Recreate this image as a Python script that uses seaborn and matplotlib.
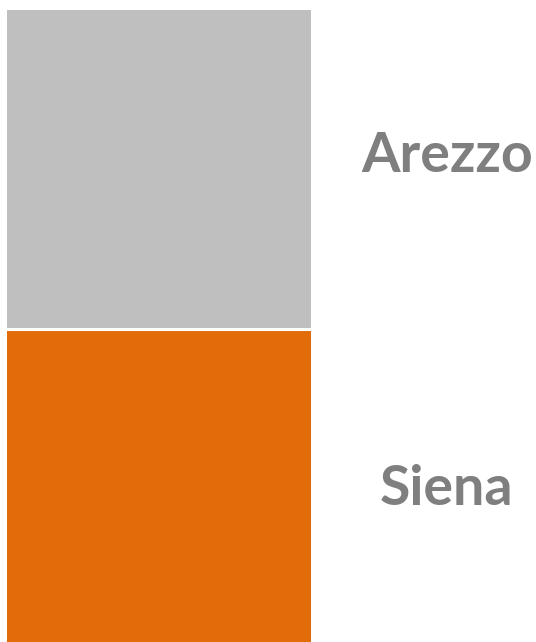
import matplotlib
matplotlib.use("Agg")
import pandas as pd
import seaborn as sns
import matplotlib.pyplot as plt

# Data: one 100% stacked bar
segments = ["Arezzo", "Siena"]
shares = [50.4, 49.6]
colors = ["#BFBFBF", "#E36C0A"]

sns.set_style("white")
plt.rcParams['font.family'] = ['Lato', 'DejaVu Sans']

df = pd.DataFrame({"bar": ["tot"], "Arezzo": [shares[0]], "Siena": [shares[1]]})
df["top"] = df["Arezzo"] + df["Siena"]

fig = plt.figure(figsize=(5.36, 6.42), dpi=100)
ax = fig.add_axes([7 / 536, 0, 304 / 536, 632 / 642])

# full-height bar (gray) then bottom segment (orange) drawn over it
sns.barplot(data=df, x="bar", y="top", color=colors[0], width=1.0,
            saturation=1, linewidth=0, ax=ax)
sns.barplot(data=df, x="bar", y="Siena", color=colors[1], width=1.0,
            saturation=1, linewidth=0, ax=ax)
# thin white gap between the two segments
ax.axhline(df["Siena"][0], color="white", lw=2.2)

ax.set_xlim(-0.5, 0.5)
ax.set_ylim(0, df["top"][0])
ax.set_axis_off()

# labels to the right of the bar, baselines
label_y = [74.4, 21.6]
for name, yv in zip(segments, label_y):
    ax.annotate(name, xy=(447 / 536, yv), xycoords=("figure fraction", "data"),
                ha="center", va="baseline", fontsize=40, fontweight="bold",
                color="#7F7F7F", annotation_clip=False)

fig.savefig("out.png", dpi=100)
